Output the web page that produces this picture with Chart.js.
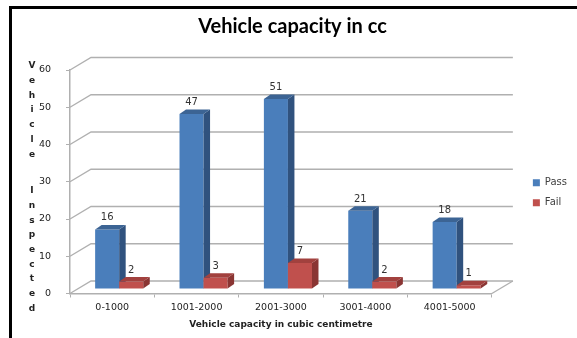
<!DOCTYPE html>
<html>
<head>
<meta charset="utf-8">
<script src="https://cdn.jsdelivr.net/npm/chart.js@4.4.1/dist/chart.umd.min.js"></script>
<style>
  html, body { margin: 0; padding: 0; background: #fff; }
  #wrap { position: relative; width: 577px; height: 338px; overflow: hidden; }
  #frame { position: absolute; left: 9px; top: 6px; width: 700px; height: 500px; border: 3px solid #000; box-sizing: border-box; }
  #c { position: absolute; left: 0; top: 0; }
</style>
</head>
<body>
<div id="wrap">
  <div id="frame"></div>
  <canvas id="c" width="577" height="338"></canvas>
</div>
<script>
// Inspection results grouped by engine capacity
const categories = ['0-1000', '1001-2000', '2001-3000', '3001-4000', '4001-5000'];
const passCounts = [16, 47, 51, 21, 18];
const failCounts = [2, 3, 7, 2, 1];
const seriesNames = ['Pass', 'Fail'];
const yTicks = [0, 10, 20, 30, 40, 50, 60];
const chartTitle = 'Vehicle capacity in cc';
const xTitle = 'Vehicle capacity in cubic centimetre';
const yTitle = 'Vehicle Inspected';

// 3D look: back wall offset and bar depth
const WALL = { dx: 21, dy: 12.5 };
const BAR = { shiftX: 7, shiftY: -4.5, dx: 6.5, dy: 4.5 };
const GRID = '#b0b0b0';
const TEXT = '#222';
const FONT = 'DejaVu Sans';

const palette = [
  { front: '#4a7ebb', side: '#30527e', top: '#3c6494' },
  { front: '#c0504d', side: '#8a3533', top: '#a2413e' }
];

function shade(ctx, pts, color) {
  ctx.beginPath();
  ctx.moveTo(pts[0][0], pts[0][1]);
  for (let i = 1; i < pts.length; i++) ctx.lineTo(pts[i][0], pts[i][1]);
  ctx.closePath();
  ctx.fillStyle = color;
  ctx.fill();
}

const wall3d = {
  id: 'wall3d',
  beforeDatasetsDraw(chart) {
    const { ctx, chartArea: a, scales } = chart;
    const y = scales.y;
    ctx.save();
    ctx.strokeStyle = GRID;
    ctx.lineWidth = 1.4;
    // gridlines running back along the side wall and across the back wall
    y.ticks.forEach(t => {
      const py = y.getPixelForValue(t.value);
      ctx.beginPath();
      ctx.moveTo(a.left, py);
      ctx.lineTo(a.left + WALL.dx, py - WALL.dy);
      ctx.lineTo(a.right + WALL.dx, py - WALL.dy);
      ctx.stroke();
    });
    // right edge of the floor
    ctx.beginPath();
    ctx.moveTo(a.right, a.bottom);
    ctx.lineTo(a.right + WALL.dx, a.bottom - WALL.dy);
    ctx.stroke();

    // columns sit half way into the depth
    ctx.translate(BAR.shiftX, BAR.shiftY);
    chart.data.datasets.forEach((ds, di) => {
      const meta = chart.getDatasetMeta(di);
      const col = palette[di];
      meta.data.forEach((el, i) => {
        el.draw(ctx);
        const l = el.x - el.width / 2, r = el.x + el.width / 2;
        const t = el.y, b = el.base;
        shade(ctx, [[r, t], [r + BAR.dx, t - BAR.dy], [r + BAR.dx, b - BAR.dy], [r, b]], col.side);
        shade(ctx, [[l, t], [l + BAR.dx, t - BAR.dy], [r + BAR.dx, t - BAR.dy], [r, t]], col.top);
        ctx.fillStyle = '#333';
        ctx.font = '10px "' + FONT + '"';
        ctx.textAlign = 'center';
        ctx.textBaseline = 'bottom';
        ctx.fillText(String(ds.data[i]), el.x, t - BAR.dy - 2);
      });
    });
    ctx.restore();
    return false;
  },
  afterDraw(chart) {
    // stacked vertical axis title, one letter per line
    const { ctx, chartArea: a } = chart;
    const y = chart.scales.y;
    ctx.save();
    ctx.fillStyle = TEXT;
    ctx.font = 'bold 9px "' + FONT + '"';
    ctx.textAlign = 'center';
    ctx.textBaseline = 'middle';
    const step = 14.7;
    let py = y.getPixelForValue(60) - 4;
    for (const ch of yTitle) {
      if (ch === ' ') { py += step * 1.5; continue; }
      ctx.fillText(ch, a.left - 38, py);
      py += step;
    }
    ctx.restore();
  }
};

new Chart(document.getElementById('c'), {
  type: 'bar',
  data: {
    labels: categories,
    datasets: [
      { label: seriesNames[0], data: passCounts, backgroundColor: palette[0].front, borderWidth: 0 },
      { label: seriesNames[1], data: failCounts, backgroundColor: palette[1].front, borderWidth: 0 }
    ]
  },
  plugins: [wall3d],
  options: {
    responsive: false,
    animation: false,
    events: [],
    categoryPercentage: 0.57,
    barPercentage: 1.0,
    layout: { padding: { left: 8, right: 0, top: 0, bottom: 6 } },
    plugins: {
      tooltip: { enabled: false },
      title: {
        display: true, text: chartTitle, color: '#000',
        font: { family: 'Lato', size: 20, weight: 'bold' },
        padding: { top: 15, bottom: 31 }
      },
      legend: {
        position: 'right', fullSize: false, align: 'center',
        title: { display: true, text: '', font: { size: 10 }, padding: { top: 0, bottom: 10 } },
        labels: { boxWidth: 7, boxHeight: 7, padding: 10, color: '#404040', font: { family: FONT, size: 10 } }
      }
    },
    scales: {
      x: {
        grid: { display: true, drawOnChartArea: false, drawTicks: true, tickLength: 4, color: GRID, offset: true },
        border: { display: true, color: GRID, width: 1.5 },
        ticks: { color: TEXT, padding: 4, maxRotation: 0, autoSkip: false, font: { family: FONT, size: 9.5 } },
        title: { display: true, text: xTitle, color: TEXT, font: { family: FONT, size: 9, weight: 'bold' }, padding: { top: 4, bottom: 2 } },
        afterFit: s => { s.height = 38.5; }
      },
      y: {
        min: 0, max: 60,
        afterBuildTicks: s => { s.ticks = yTicks.map(v => ({ value: v })); },
        grid: { display: true, drawOnChartArea: false, drawTicks: true, tickLength: 4, color: GRID },
        border: { display: true, color: GRID, width: 1.5 },
        ticks: { color: TEXT, padding: 15, font: { family: FONT, size: 9.5 } },
        afterFit: s => { s.width = 62; }
      },
      depth: {
        type: 'linear', position: 'right', display: true,
        grid: { display: false }, border: { display: false }, ticks: { display: false },
        afterFit: s => { s.width = 31; }
      }
    }
  }
});
</script>
</body>
</html>
